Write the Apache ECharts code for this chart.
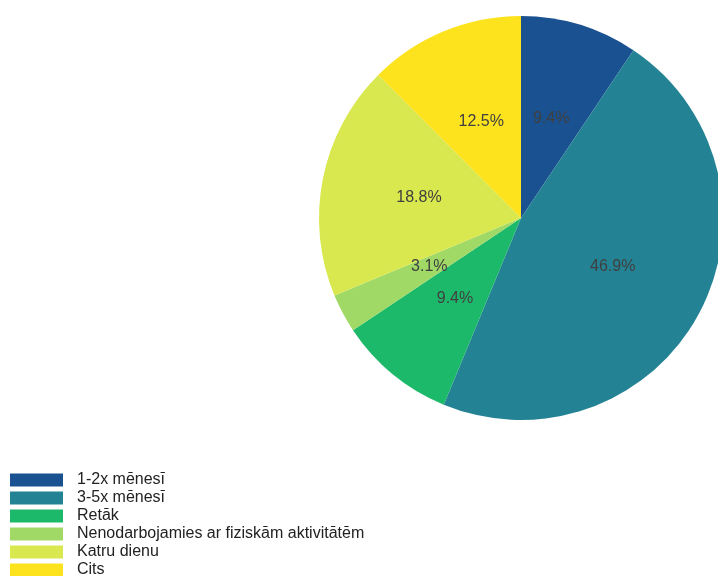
<!DOCTYPE html>
<html><head><meta charset="utf-8">
<script src="https://cdn.jsdelivr.net/npm/echarts@6/dist/echarts.min.js"></script>
<style>html,body{margin:0;padding:0;background:#fff}#c{width:718px;height:576px}</style>
</head><body><div id="c"></div>
<script>
const categories = ["1-2x mēnesī","3-5x mēnesī","Retāk","Nenodarbojamies ar fiziskām aktivitātēm","Katru dienu","Cits"];
const values = [9.4, 46.9, 9.4, 3.1, 18.8, 12.5];
const colors = ["#1a5190","#238294","#1db96a","#a0d966","#d8e84e","#fde21e"];
const chart = echarts.init(document.getElementById('c'), null, {renderer:'canvas'});
chart.setOption({
  animation:false,
  color: colors,
  legend:{
    orient:'vertical', left:10, top:472, height:300, padding:0,
    itemWidth:53, itemHeight:13, itemGap:2,
    icon:'rect',
    textStyle:{fontFamily:'Liberation Sans, Arial, sans-serif', fontSize:16, lineHeight:16, color:'#222', padding:[0,0,0,9]},
    data: categories
  },
  series:[{
    type:'pie', center:[521,218], radius:[0,202], startAngle:90, clockwise:true,
    avoidLabelOverlap:false,
    label:{show:true, position:'inside', formatter: p => p.value.toFixed(1)+'%',
      fontFamily:'Liberation Sans, Arial, sans-serif', fontSize:16, color:'#404040', padding:[6,0,0,0]},
    labelLine:{show:false},
    itemStyle:{borderWidth:0},
    emphasis:{disabled:true},
    data: categories.map((n,i)=>({name:n, value:values[i]}))
  }]
});
</script></body></html>
